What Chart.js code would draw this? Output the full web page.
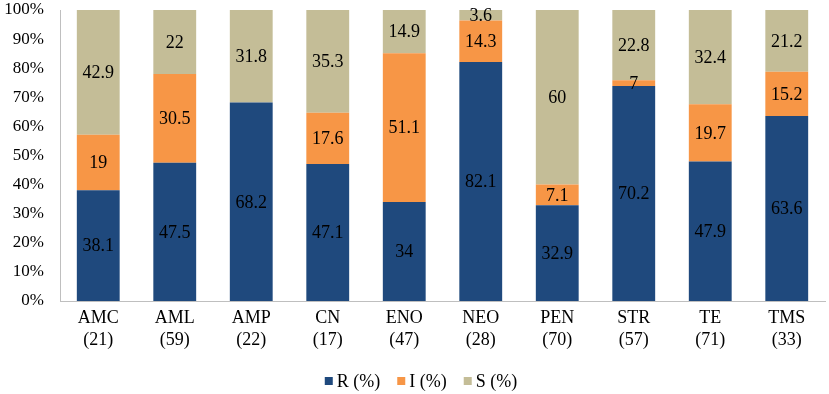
<!DOCTYPE html>
<html>
<head>
<meta charset="utf-8">
<script src="https://cdn.jsdelivr.net/npm/chart.js@4/dist/chart.umd.min.js"></script>
<style>
html,body{margin:0;padding:0;background:#fff;}
#wrap{width:829px;height:394px;}
</style>
</head>
<body>
<div id="wrap"><canvas id="c" width="829" height="394"></canvas></div>
<script>
const categories = [['AMC','(21)'],['AML','(59)'],['AMP','(22)'],['CN','(17)'],['ENO','(47)'],['NEO','(28)'],['PEN','(70)'],['STR','(57)'],['TE','(71)'],['TMS','(33)']];
// bar heights as drawn in the picture
const rValues = [38.1, 47.5, 68.2, 47.1, 34, 82.1, 32.9, 73.9, 47.9, 63.6];
const iValues = [19, 30.5, 0, 17.6, 51.1, 14.3, 7.1, 2.0, 19.7, 15.2];
const sValues = [42.9, 22, 31.8, 35.3, 14.9, 3.6, 60, 24.1, 32.4, 21.2];
// numbers printed on the segments
const rLabels = ['38.1','47.5','68.2','47.1','34','82.1','32.9','70.2','47.9','63.6'];
const iLabels = ['19','30.5','','17.6','51.1','14.3','7.1','7','19.7','15.2'];
const sLabels = ['42.9','22','31.8','35.3','14.9','3.6','60','22.8','32.4','21.2'];
const seriesNames = ['R (%)','I (%)','S (%)'];
const yTicks = [0,10,20,30,40,50,60,70,80,90,100];

const FONT = "'Liberation Serif','Times New Roman',serif";
const allLabels = [rLabels, iLabels, sLabels];

const labelPlugin = {
  id: 'segLabels',
  afterDatasetsDraw(chart) {
    const ctx = chart.ctx;
    ctx.save();
    ctx.font = '18px ' + FONT;
    ctx.fillStyle = '#000';
    ctx.textAlign = 'center';
    ctx.textBaseline = 'middle';
    chart.data.datasets.forEach((ds, di) => {
      const meta = chart.getDatasetMeta(di);
      meta.data.forEach((bar, i) => {
        const t = allLabels[di][i];
        if (!t) return;
        const y = (bar.y + bar.base) / 2;
        ctx.fillText(t, bar.x, y + 1);
      });
    });
    ctx.restore();
  }
};

const legendPlugin = {
  id: 'customLegend',
  afterDraw(chart) {
    const ctx = chart.ctx;
    ctx.save();
    ctx.font = '18px ' + FONT;
    ctx.textBaseline = 'middle';
    ctx.textAlign = 'left';
    const cy = chart.height - 13;
    const gap = 17;
    const items = chart.data.datasets.map(d => ({label: d.label, color: d.backgroundColor, w: 8 + 4 + ctx.measureText(d.label).width}));
    const total = items.reduce((a, b) => a + b.w, 0) + gap * (items.length - 1);
    let x = 421 - total / 2;
    items.forEach(it => {
      ctx.fillStyle = it.color;
      ctx.fillRect(x, cy - 4, 8, 8);
      ctx.fillStyle = '#000';
      ctx.fillText(it.label, x + 12, cy + 1);
      x += it.w + gap;
    });
    ctx.restore();
  }
};

new Chart(document.getElementById('c'), {
  type: 'bar',
  data: {
    labels: categories,
    datasets: [
      {label: seriesNames[0], data: rValues, backgroundColor: '#1F497D', borderWidth: 0},
      {label: seriesNames[1], data: iValues, backgroundColor: '#F79646', borderWidth: 0},
      {label: seriesNames[2], data: sValues, backgroundColor: '#C4BD97', borderWidth: 0}
    ]
  },
  options: {
    responsive: false,
    animation: false,
    devicePixelRatio: 1,
    layout: {padding: {left: 0, right: 4, top: 0, bottom: 33}},
    categoryPercentage: 0.56,
    barPercentage: 1.0,
    plugins: {
      tooltip: {enabled: false},
      legend: {display: false}
    },
    scales: {
      x: {
        stacked: true,
        grid: {display: false, drawTicks: false},
        border: {display: true, color: '#BFBFBF', width: 1},
        afterFit: (s) => { s.height = 60; s.paddingLeft = 0; s.paddingRight = 0; },
        ticks: {color: '#000', font: {family: FONT, size: 18, lineHeight: 1.25}, padding: 6, maxRotation: 0, autoSkip: false}
      },
      y: {
        stacked: true,
        min: 0, max: 100,
        afterBuildTicks: (s) => { s.ticks = yTicks.map(v => ({value: v})); },
        afterFit: (s) => { s.width = 60; s.paddingTop = 10; s.paddingBottom = 0; },
        grid: {display: false, drawTicks: false},
        border: {display: true, color: '#BFBFBF', width: 1},
        ticks: {color: '#000', font: {family: FONT, size: 17}, padding: 16, callback: (v) => v + '%'}
      }
    }
  },
  plugins: [labelPlugin, legendPlugin]
});
</script>
</body>
</html>
